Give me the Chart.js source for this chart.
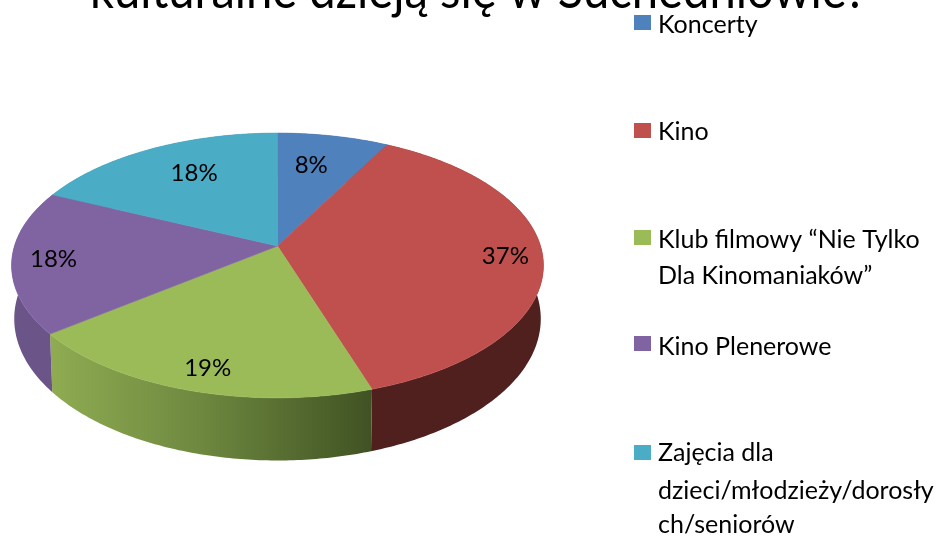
<!DOCTYPE html>
<html><head><meta charset="utf-8">
<style>html,body{margin:0;padding:0;background:#fff;overflow:hidden}canvas{display:block}</style>
<script src="https://cdn.jsdelivr.net/npm/chart.js@4"></script></head>
<body><canvas id="c" width="936" height="536"></canvas>
<script>
const titleText = 'kulturalne dzieją się w Suchedniowie?';
const categories = ['Koncerty','Kino','Klub filmowy “Nie Tylko Dla Kinomaniaków”','Kino Plenerowe','Zajęcia dla dzieci/młodzieży/dorosłych/seniorów'];
const values = [7.8,37.2,19.4,17.5,18.1];
const colors = ['#4F81BD','#C0504D','#9BBB59','#8064A2','#4BACC6'];
const sideColors = ['#3a5f8c','#4f201e','#6f8a40','#6b5488','#37808f'];
const legendLines = [['Koncerty'],['Kino'],['Klub filmowy “Nie Tylko','Dla Kinomaniaków”'],['Kino Plenerowe'],['Zajęcia dla','dzieci/młodzieży/dorosły','ch/seniorów']];
const legendTop = [15,123,230,336,445];
const legendBase = [[33],[140],[248,284],[355],[461,499,533]];
const labelRadius = [0.70,0.86,0.86,0.845,0.70];
const labelNudgeDeg = [-2.4,0,-1.2,0,3];
const FONT='Lato, Carlito, sans-serif';

const pie3d = {
  id:'pie3d',
  beforeDatasetsDraw(chart){
    const ctx=chart.ctx, arcs=chart.getDatasetMeta(0).data;
    const k=-0.147;
    const cx=arcs[0].x, cy=arcs[0].y-22, R=arcs[0].outerRadius;
    const a=R*0.987, b=R*0.486;
    const project=(ang,r)=>{
      const u=Math.cos(ang)*r, v=Math.sin(ang)*r, d=1+k*v;
      return {x:cx+a*u/d, y:cy+b*v/d};
    };
    const lower=p=>({x:cx+(p.x-cx)*0.99, y:p.y+52+(p.y-cy)*0.07});
    const rim=(s,e)=>{const n=Math.max(2,Math.ceil((e-s)*80)),o=[];
      for(let i=0;i<=n;i++)o.push(project(s+(e-s)*i/n,1));return o;};
    // side walls
    arcs.forEach((arc,i)=>{
      const top=rim(arc.startAngle,arc.endAngle);
      let fill=sideColors[i];
      if(i===2){
        const g=ctx.createLinearGradient(top[top.length-1].x,0,top[0].x,0);
        g.addColorStop(0,'#8fac52');g.addColorStop(0.45,'#6f8a40');g.addColorStop(1,'#405223');
        fill=g;
      }
      ctx.beginPath();
      top.forEach((p,j)=>j?ctx.lineTo(p.x,p.y):ctx.moveTo(p.x,p.y));
      top.slice().reverse().forEach(p=>{const q=lower(p);ctx.lineTo(q.x,q.y);});
      ctx.closePath();ctx.fillStyle=fill;ctx.fill();
    });
    // top surface
    const apex=project(0,0);
    arcs.forEach((arc,i)=>{
      ctx.beginPath();ctx.moveTo(apex.x,apex.y);
      rim(arc.startAngle,arc.endAngle).forEach(p=>ctx.lineTo(p.x,p.y));
      ctx.closePath();
      ctx.fillStyle=arc.options.backgroundColor;ctx.fill();
      ctx.strokeStyle=arc.options.backgroundColor;ctx.lineWidth=0.6;ctx.stroke();
    });
    // value labels
    ctx.fillStyle='#000';ctx.textAlign='center';ctx.textBaseline='middle';
    ctx.font='24px '+FONT;
    arcs.forEach((arc,i)=>{
      const p=project((arc.startAngle+arc.endAngle)/2+labelNudgeDeg[i]*Math.PI/180,labelRadius[i]);
      ctx.fillText(Math.round(values[i])+'%',p.x,p.y);
    });
    return false;
  },
  afterDraw(chart){
    const ctx=chart.ctx;
    ctx.save();
    ctx.fillStyle='#000';ctx.textBaseline='alphabetic';ctx.textAlign='left';
    ctx.save();
    ctx.translate(90,8);
    ctx.scale(0.907,1);
    ctx.font='52px '+FONT;
    ctx.fillText(titleText,0,0);
    ctx.restore();
    ctx.font='25px '+FONT;
    legendLines.forEach((lines,i)=>{
      ctx.fillStyle=colors[i];
      ctx.fillRect(634,legendTop[i],17,15);
      ctx.fillStyle='#000';
      lines.forEach((t,j)=>ctx.fillText(t,658,legendBase[i][j]));
    });
    ctx.restore();
  }
};

new Chart(document.getElementById('c'),{
  type:'pie',
  data:{labels:categories,datasets:[{data:values,backgroundColor:colors,borderWidth:0}]},
  options:{
    responsive:false,animation:false,
    layout:{padding:{left:11,right:392,top:0,bottom:0}},
    plugins:{legend:{display:false},tooltip:{enabled:false}}
  },
  plugins:[pie3d]
});
</script></body></html>
